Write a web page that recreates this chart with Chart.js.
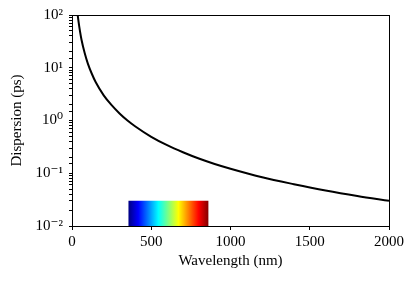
<!DOCTYPE html>
<html><head><meta charset="utf-8">
<script src="https://cdn.jsdelivr.net/npm/chart.js@4"></script>
<style>html,body{margin:0;padding:0;background:#fff;}#wrap{width:415px;height:281px;}</style>
</head><body><div id="wrap"><canvas id="c"></canvas></div>
<script>
// Data
const wavelengths = [25, 30, 40, 50, 60, 80, 100, 125, 150, 200, 250, 300, 350, 400, 500, 600, 700, 800, 900, 1000, 1200, 1400, 1600, 1800, 2000];
const dispersion  = [190, 140, 80, 50, 34, 19, 12, 7.7, 5.3, 3.0, 1.95, 1.36, 1.0, 0.77, 0.49, 0.34, 0.25, 0.19, 0.15, 0.122, 0.084, 0.062, 0.047, 0.037, 0.030];
const spectrumX = [355, 862];
const spectrumY = [0.03, 0.03];
const spectrumBase = 0.01;
const xTicks = [0, 500, 1000, 1500, 2000];
const yTickLabels = {"100":"10²","10":"10¹","1":"10⁰","0.1":"10⁻¹","0.01":"10⁻²"};

const FONT = "'Liberation Serif', 'DejaVu Serif', serif";

function jet(t){
  const clamp = v => Math.max(0, Math.min(1, v));
  const r = clamp(1.5 - Math.abs(4*t - 3));
  const g = clamp(1.5 - Math.abs(4*t - 2));
  const b = clamp(1.5 - Math.abs(4*t - 1));
  return `rgb(${Math.round(r*255)},${Math.round(g*255)},${Math.round(b*255)})`;
}

const frame = {
  id: 'frame',
  afterDatasetsDraw(chart){
    const {ctx, chartArea:a} = chart;
    ctx.save();
    ctx.strokeStyle = '#000';
    ctx.lineWidth = 1;
    ctx.strokeRect(Math.round(a.left)+0.5, Math.round(a.top)+0.5, Math.round(a.right-a.left), Math.round(a.bottom-a.top));
    ctx.restore();
  }
};

new Chart(document.getElementById('c'), {
  type: 'line',
  data: {
    datasets: [
      {
        data: wavelengths.map((x,i)=>({x, y: dispersion[i]})),
        borderColor: '#000', borderWidth: 2, pointRadius: 0,
        cubicInterpolationMode: 'monotone', fill: false, order: 1
      },
      {
        data: spectrumX.map((x,i)=>({x, y: spectrumY[i]})),
        borderWidth: 0, borderColor: 'rgba(0,0,0,0)', pointRadius: 0,
        fill: {value: spectrumBase}, order: 2,
        backgroundColor(ctx){
          const chart = ctx.chart; const xs = chart.scales.x;
          if (!xs || !chart.chartArea) return 'blue';
          const x0 = xs.getPixelForValue(spectrumX[0]), x1 = xs.getPixelForValue(spectrumX[1]);
          const g = chart.ctx.createLinearGradient(x0, 0, x1, 0);
          for (let i=0;i<=40;i++){ g.addColorStop(i/40, jet(i/40)); }
          return g;
        }
      }
    ]
  },
  options: {
    responsive: true, maintainAspectRatio: false, animation: false,
    layout: {padding: {top: 15, right: 26, left: 0, bottom: 0}},
    plugins: {legend: {display: false}, tooltip: {enabled: false}},
    scales: {
      x: {
        type: 'linear', min: 0, max: 2000,
        afterFit(s){ s.height = 55; },
        afterBuildTicks(s){ s.ticks = xTicks.map(v=>({value:v})); },
        border: {display: true, color: '#000', width: 1},
        grid: {drawOnChartArea: false, tickLength: 4, color: '#000', tickColor: '#000'},
        ticks: {color: '#000', font: {family: FONT, size: 15}, padding: 3, maxRotation: 0, callback(v){ return String(v); }},
        title: {display: true, text: 'Wavelength (nm)', color: '#000', font: {family: FONT, size: 15}, padding: {top: 0, bottom: 11}}
      },
      y: {
        type: 'logarithmic', min: 0.01, max: 100,
        afterFit(s){ s.width = 72; },
        border: {display: true, color: '#000', width: 1},
        grid: {drawOnChartArea: false, tickLength: 3, color: '#000', tickColor: '#000'},
        ticks: {
          color: '#000', font: {family: FONT, size: 15}, padding: 6, autoSkip: false,
          callback(v){ const k = String(+v.toPrecision(3)); return yTickLabels[k] !== undefined ? yTickLabels[k] : ''; }
        },
        title: {display: true, text: 'Dispersion (ps)', color: '#000', font: {family: FONT, size: 15}, padding: {top: 8, bottom: 0}}
      }
    }
  },
  plugins: [frame]
});
</script></body></html>
